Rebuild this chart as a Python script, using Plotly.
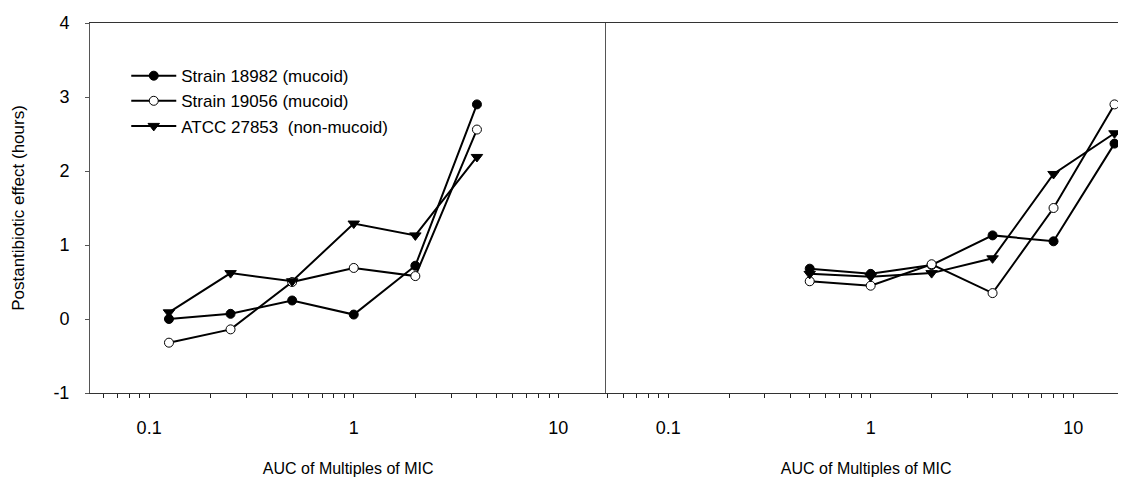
import plotly.graph_objects as go

# ---- data ----
x_left = [0.125, 0.25, 0.5, 1, 2, 4]
x_right = [0.5, 1, 2, 4, 8, 16]

left_18982 = [0.0, 0.07, 0.25, 0.06, 0.72, 2.90]
left_19056 = [-0.32, -0.14, 0.50, 0.69, 0.58, 2.56]
left_atcc = [0.09, 0.62, 0.51, 1.29, 1.13, 2.19]

right_18982 = [0.68, 0.61, 0.73, 1.13, 1.05, 2.37]
right_19056 = [0.51, 0.45, 0.74, 0.35, 1.50, 2.90]
right_atcc = [0.61, 0.57, 0.62, 0.82, 1.96, 2.51]

names = ["Strain 18982 (mucoid)", "Strain 19056 (mucoid)", "ATCC 27853  (non-mucoid)"]
y_ticks = [-1, 0, 1, 2, 3, 4]
y_ticktext = ["-1", "0", "1", "2", "3", "4"]
x_ticks = [0.1, 1, 10]
x_ticktext = ["0.1", "1", "10"]
x_title = "AUC of Multiples of MIC"
y_title = "Postantibiotic effect (hours)"

FONT = "Liberation Sans, Arial, sans-serif"
markers = [
    dict(symbol="circle", size=9, color="black", line=dict(color="black", width=1)),
    dict(symbol="circle", size=9, color="white", line=dict(color="black", width=1)),
    dict(symbol="triangle-down", size=10, color="black", line=dict(color="black", width=1)),
]

fig = go.Figure()
for i, ys in enumerate([left_18982, left_19056, left_atcc]):
    fig.add_trace(go.Scatter(x=x_left, y=ys, mode="lines+markers", name=names[i],
                             line=dict(color="black", width=2), marker=markers[i],
                             cliponaxis=False, xaxis="x", yaxis="y"))
for i, ys in enumerate([right_18982, right_19056, right_atcc]):
    fig.add_trace(go.Scatter(x=x_right, y=ys, mode="lines+markers", name=names[i],
                             line=dict(color="black", width=2), marker=markers[i],
                             cliponaxis=False, showlegend=False, xaxis="x2", yaxis="y2"))

axis_line = "#555555"
xcommon = dict(type="log", tickvals=x_ticks, ticktext=x_ticktext,
               ticks="outside", ticklen=4, tickcolor="#222222", ticklabelstandoff=14,
               minor=dict(ticks="outside", ticklen=4, dtick="D1", tickcolor="#222222"),
               showline=True, linecolor="#333333", linewidth=1, mirror=True,
               showgrid=False, zeroline=False,
               tickfont=dict(family=FONT, size=18, color="black"),
               title=dict(text=x_title, font=dict(family=FONT, size=16, color="black"), standoff=26))

fig.update_layout(
    width=1118, height=470,
    margin=dict(l=82, r=0, t=15, b=85),
    paper_bgcolor="white", plot_bgcolor="white",
    font=dict(family=FONT, color="black"),
    xaxis=dict(domain=[0, 0.4985], range=[-1.289, 1.235], anchor="y", **xcommon),
    xaxis2=dict(domain=[0.4985, 1], range=[-1.305, 1.261], anchor="y2", **xcommon),
    yaxis=dict(range=[-1, 4], tickvals=y_ticks, ticktext=y_ticktext, ticks="outside", ticklen=4,
               tickcolor=axis_line, ticklabelstandoff=12,
               showline=True, linecolor=axis_line, linewidth=1, showgrid=False, zeroline=False,
               tickfont=dict(family=FONT, size=18, color="black"),
               title=dict(text=y_title, font=dict(family=FONT, size=17, color="black"), standoff=24),
               anchor="x"),
    yaxis2=dict(range=[-1, 4], showticklabels=False, ticks="", showline=True, linecolor=axis_line,
                linewidth=1, showgrid=False, zeroline=False, anchor="x2"),
    legend=dict(x=0.035, y=0.905, xanchor="left", yanchor="top", bgcolor="rgba(0,0,0,0)",
                itemwidth=45,
                font=dict(family=FONT, size=17, color="black"), tracegroupgap=0),
)

fig.write_html("out.html")
